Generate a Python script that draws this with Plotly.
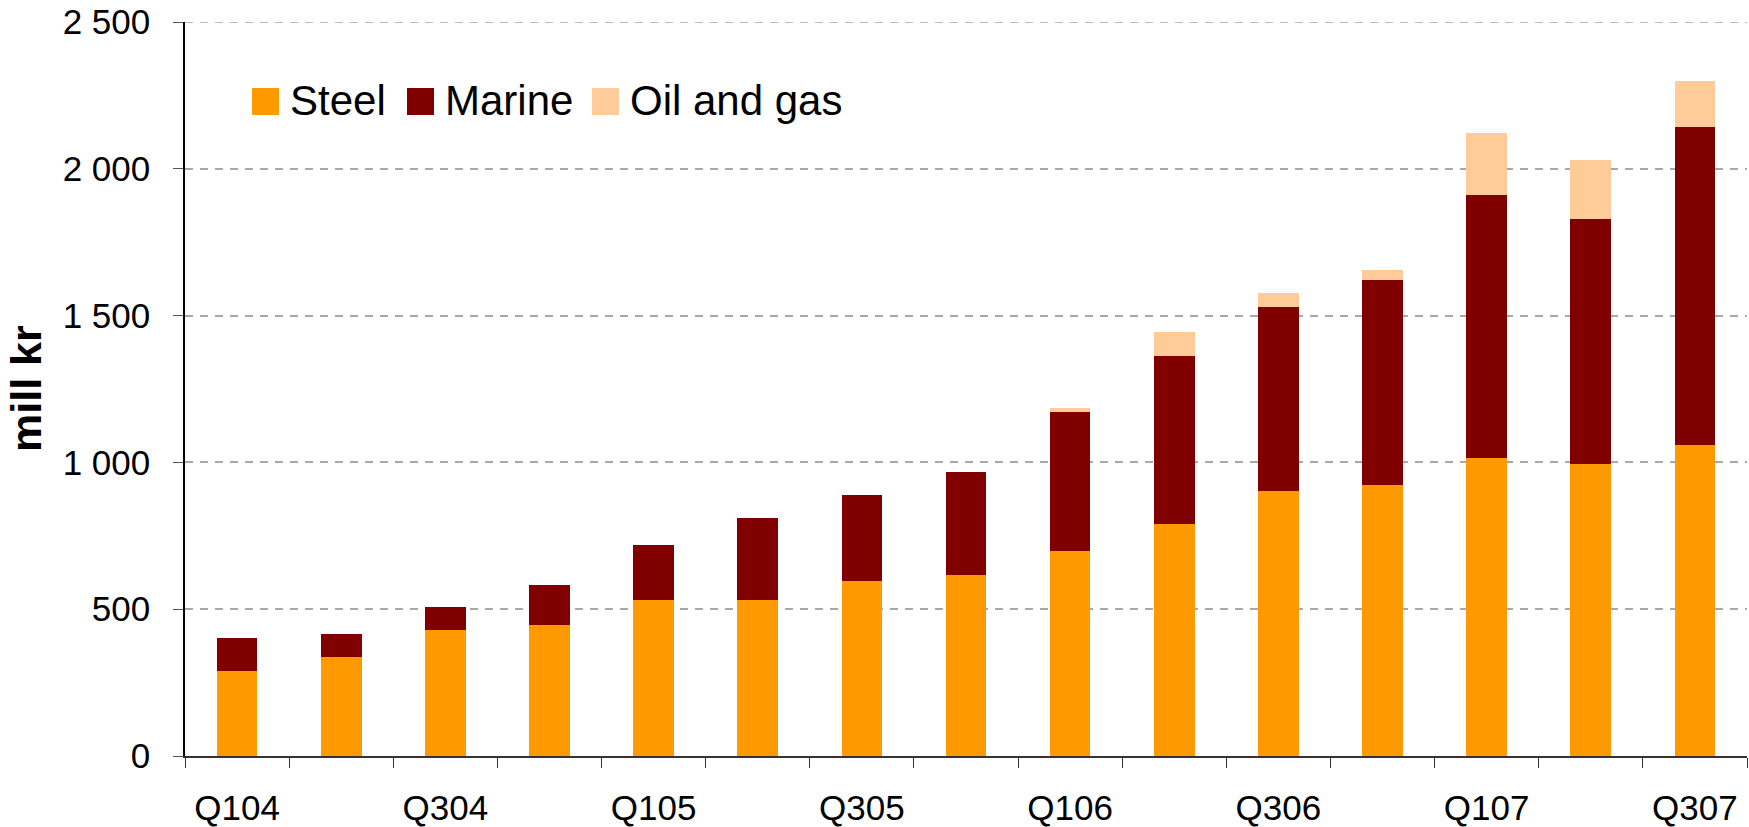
import plotly.graph_objects as go

quarters = ["Q104", "Q204", "Q304", "Q404", "Q105", "Q205", "Q305", "Q405",
            "Q106", "Q206", "Q306", "Q406", "Q107", "Q207", "Q307"]
steel = [290, 336, 428, 447, 530, 530, 595, 617, 697, 790, 903, 923, 1015, 994, 1060]
marine = [113, 81, 80, 136, 190, 281, 295, 349, 475, 572, 627, 699, 895, 836, 1082]
oil_gas = [0, 0, 0, 0, 0, 0, 0, 0, 14, 83, 48, 33, 212, 201, 158]
y_ticks = [0, 500, 1000, 1500, 2000, 2500]

series = [("Steel", steel, "#FF9900"),
          ("Marine", marine, "#800000"),
          ("Oil and gas", oil_gas, "#FFCC99")]

W, H = 1749, 827
L, R, T, B = 185, 2, 22, 71
font = "Liberation Sans, Arial, sans-serif"
grid = dict(color="#a8a8a8", width=1.5, dash="8px,7px")

fig = go.Figure()
for name, vals, col in series:
    fig.add_trace(go.Bar(x=quarters, y=vals, name=name, marker_color=col,
                         marker_line_width=0, showlegend=False))

# pixel -> paper coords
pw, ph = W - L - R, H - T - B
def px(x):
    return (x - L) / pw
def py(y):
    return (H - B - y) / ph

# hand-made legend (big square swatches like the original)
legend_items = [(252, "Steel"), (407, "Marine"), (592, "Oil and gas")]
for (x0, name), (_, _, col) in zip(legend_items, series):
    fig.add_shape(type="rect", xref="paper", yref="paper",
                  x0=px(x0), x1=px(x0 + 27), y0=py(115), y1=py(88),
                  fillcolor=col, line_width=0)
    fig.add_annotation(text=name, xref="paper", yref="paper", x=px(x0 + 36), y=py(101),
                       xanchor="left", yanchor="middle", showarrow=False,
                       font=dict(size=42, color="black", family=font))

# plotly drops the grid line sitting on the top edge, draw it by hand
fig.add_shape(type="line", xref="paper", yref="y", x0=0, x1=1,
              y0=y_ticks[-1], y1=y_ticks[-1], line=grid, layer="below")

# y axis title
fig.add_annotation(text="<b>mill kr</b>", xref="paper", yref="paper",
                   x=px(0), y=0.5, xanchor="left", yanchor="middle",
                   textangle=-90, showarrow=False,
                   font=dict(size=43, color="black", family=font))

fig.update_layout(
    width=W, height=H,
    margin=dict(l=L, r=R, t=T, b=B),
    barmode="stack", bargap=0.61,
    plot_bgcolor="white", paper_bgcolor="white",
    separators=", ",
    font=dict(family=font, color="black"),
)
fig.update_xaxes(
    tickvals=quarters,
    ticktext=[q if i % 2 == 0 else "" for i, q in enumerate(quarters)],
    tickson="boundaries", ticks="outside", ticklen=10, tickcolor="#333",
    showline=True, linecolor="#333", linewidth=1.5,
    showgrid=False, tickfont=dict(size=35), ticklabelstandoff=20,
    automargin=False,
)
fig.update_yaxes(
    range=[0, 2500], tickvals=y_ticks, tickformat=",d",
    ticks="outside", ticklen=10, tickcolor="#555",
    showline=True, linecolor="black", linewidth=1.5,
    showgrid=True, gridcolor=grid["color"], gridwidth=grid["width"], griddash=grid["dash"],
    tickfont=dict(size=35), ticklabelstandoff=16, ticklabeloverflow="allow",
    automargin=False,
)

# drop the default 8px body margin so the figure fills the window exactly
fig.write_html("out.html", config={"displayModeBar": False},
               post_script="document.body.style.margin='0';")
